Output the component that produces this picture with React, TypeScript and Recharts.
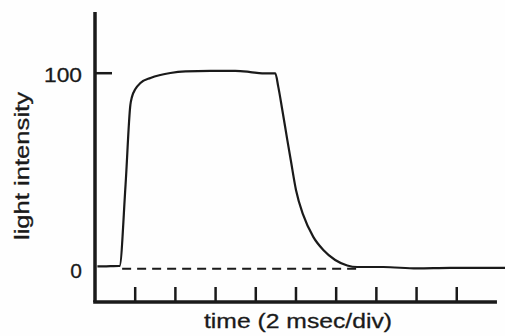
import React from "react";
import { LineChart, Line, XAxis, YAxis, ReferenceLine } from "recharts";

// time in msec, light intensity (relative, 0..100)
const timeMs = [0.12, 0.77, 1.19, 1.22, 1.52, 1.76, 1.84, 2.01, 2.26, 2.76, 3.25, 3.75, 4.5, 5.74, 6.98, 7.73, 8.32, 8.97, 9.12, 9.32, 9.57, 9.74, 10.0, 10.36, 10.86, 11.36, 11.95, 12.55, 13.05, 14.34, 16.02, 17.67, 20.4];
const intensity = [1.2, 1.3, 1.4, 1.4, 42.9, 83.8, 87.9, 91.9, 95.0, 97.6, 99.1, 100.1, 100.9, 101.2, 101.2, 100.6, 99.9, 99.9, 93.0, 81.2, 65.8, 55.6, 40.3, 27.5, 16.3, 9.6, 4.5, 1.7, 0.9, 0.9, 0.15, 0.4, 0.4];
const xTicks = [2, 4, 6, 8, 10, 12, 14, 16, 18];
const yTicks = [0, 100];
const yTickLabels = ["0", "100"];
const xTitle = "time (2 msec/div)";
const yTitle = "light intensity";
const baselineStart = 1.35;
const baselineEnd = 13.0;
const axisEnd = 20.0;
const yMin = -17;
const yMax = 131.3;

const data = timeMs.map((t, i) => ({ t, v: intensity[i] }));

const INK = "#1a1a1a";
const FONT = "'Liberation Sans', Arial, Helvetica, sans-serif";

const YTick = (props: any) => {
  const { x, y, payload } = props;
  const idx = yTicks.indexOf(payload.value);
  const label = idx >= 0 ? yTickLabels[idx] : String(payload.value);
  return (
    <g>
      <text
        x={x - 13}
        y={y + 9}
        textAnchor="end"
        fontSize={21}
        fontFamily={FONT}
        fill={INK}
        stroke={INK}
        strokeWidth={0.3}
        textLength={label.length === 3 ? 38 : undefined}
        lengthAdjust="spacingAndGlyphs"
      >
        {label}
      </text>
      {payload.value !== 0 && (
        <line x1={x} x2={x + 17} y1={y} y2={y} stroke={INK} strokeWidth={2.5} />
      )}
    </g>
  );
};

const XTick = (props: any) => {
  const { x, y } = props;
  return <line x1={x} x2={x} y1={y} y2={y - 15} stroke={INK} strokeWidth={2.5} />;
};

const XTitle = () => (
  <text
    x={298}
    y={328}
    textAnchor="middle"
    fontSize={21}
    fontFamily={FONT}
    fill={INK}
    stroke={INK}
    strokeWidth={0.3}
    textLength={188}
    lengthAdjust="spacingAndGlyphs"
  >
    {xTitle}
  </text>
);

const YTitle = () => (
  <text
    x={29}
    y={166}
    transform="rotate(-90 29 166)"
    textAnchor="middle"
    fontSize={20}
    fontFamily={FONT}
    fill={INK}
    stroke={INK}
    strokeWidth={0.3}
    textLength={148}
    lengthAdjust="spacingAndGlyphs"
  >
    {yTitle}
  </text>
);

export default function App() {
  return (
    <div style={{ position: "absolute", left: 0, top: 0, width: 505, height: 336, background: "#fefefe" }}>
      <LineChart
        width={505}
        height={336}
        data={data}
        margin={{ top: 12, right: 0, bottom: 0, left: 0 }}
      >
        <XAxis
          dataKey="t"
          type="number"
          domain={[0, 20.4]}
          ticks={xTicks}
          height={34}
          axisLine={false}
          tickSize={0}
          tickMargin={0}
          tickLine={false}
          tick={XTick}
          label={{ content: XTitle }}
          allowDataOverflow
        />
        <YAxis
          dataKey="v"
          type="number"
          domain={[yMin, yMax]}
          ticks={yTicks}
          width={95}
          tickSize={0}
          tickMargin={0}
          tickLine={false}
          axisLine={{ stroke: INK, strokeWidth: 3.5 }}
          tick={YTick}
          label={{ content: YTitle }}
          allowDataOverflow
        />
        <ReferenceLine
          segment={[{ x: -0.09, y: yMin }, { x: axisEnd, y: yMin }]}
          stroke={INK}
          strokeWidth={3.5}
          ifOverflow="visible"
        />
        <ReferenceLine
          segment={[{ x: baselineStart, y: 0 }, { x: baselineEnd, y: 0 }]}
          stroke={INK}
          strokeWidth={1.8}
          strokeDasharray="9 6"
          ifOverflow="visible"
        />
        <Line
          dataKey="v"
          type="monotone"
          stroke={INK}
          strokeWidth={2.2}
          dot={false}
          isAnimationActive={false}
        />
      </LineChart>
    </div>
  );
}
